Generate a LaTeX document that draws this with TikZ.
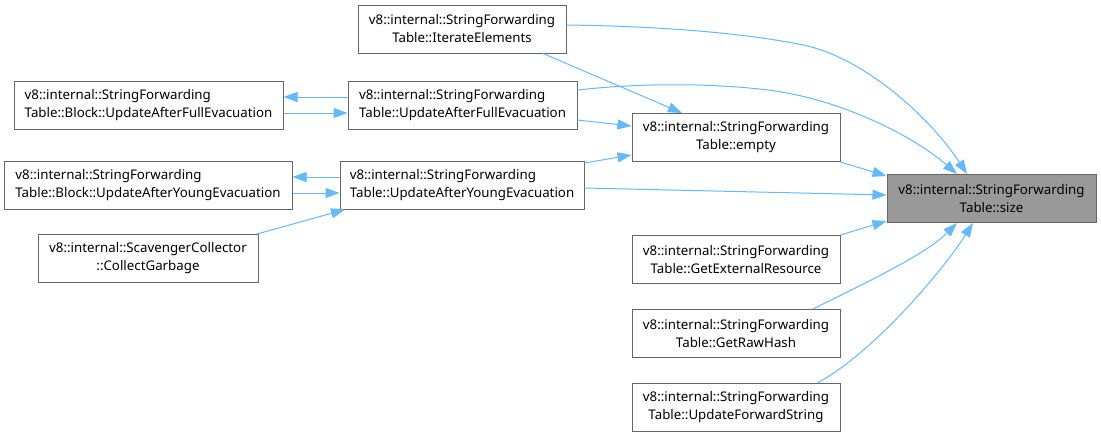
\documentclass[tikz,border=0pt]{standalone}
\usepackage{fontspec}
\setmainfont{Noto Sans}
\usetikzlibrary{arrows.meta}
\definecolor{edgec}{HTML}{63B8FF}
\definecolor{boxc}{HTML}{666666}
\definecolor{focus}{HTML}{999999}
\begin{document}
\begin{tikzpicture}[x=1pt,y=-1pt,
  box/.style={draw=boxc, line width=1pt, fill=white, align=center,
    font=\fontsize{13.3}{18}\selectfont, inner sep=0pt, minimum height=48pt},
  lbox/.style={box, align=left},
  edge/.style={draw=edgec, line width=1pt, -{Triangle[length=14pt,width=10pt]}}]
\useasboundingbox (0,0) rectangle (1101,437);

\node[box, minimum width=208pt] (ie) at (462,29) {v8::internal::StringForwarding\\Table::IterateElements};
\node[lbox, minimum width=269pt] (buafe) at (148.5,105) {v8::internal::StringForwarding\\Table::Block::UpdateAfterFullEvacuation};
\node[lbox, minimum width=229pt] (uafe) at (462.5,105) {v8::internal::StringForwarding\\Table::UpdateAfterFullEvacuation};
\node[box, minimum width=208pt] (empty) at (736,137.5) {v8::internal::StringForwarding\\Table::empty};
\node[lbox, minimum width=288pt] (buaye) at (148,185) {v8::internal::StringForwarding\\Table::Block::UpdateAfterYoungEvacuation};
\node[lbox, minimum width=244pt] (uaye) at (462,185) {v8::internal::StringForwarding\\Table::UpdateAfterYoungEvacuation};
\node[box, minimum width=220pt] (scav) at (148,258.5) {v8::internal::ScavengerCollector\\::CollectGarbage};
\node[box, minimum width=209pt, fill=focus] (size) at (991.5,198.5) {v8::internal::StringForwarding\\Table::size};
\node[box, minimum width=208pt] (ger) at (736,259.5) {v8::internal::StringForwarding\\Table::GetExternalResource};
\node[box, minimum width=208pt] (grh) at (736,333.5) {v8::internal::StringForwarding\\Table::GetRawHash};
\node[box, minimum width=208pt] (ufs) at (736,407) {v8::internal::StringForwarding\\Table::UpdateForwardString};

\draw[edge] (ie.east |- 0,25) .. controls (650,26) and (740,32) .. (803,45) .. controls (866,58) and (932,120) .. (size.north -| 967,0);
\draw[edge] (ie.south -| 543,0) -- (empty.north -| 682,0);
\draw[edge] (uafe.east |- 0,90) .. controls (640,83) and (710,83) .. (768,90) .. controls (840,99) and (912,135) .. (size.north -| 957,0);
\draw[edge] (uafe.west |- 0,97) -- (buafe.east |- 0,97);
\draw[edge] (buafe.east |- 0,113) -- (uafe.west |- 0,113);
\draw[edge] (uafe.east |- 0,120) -- (empty.west |- 0,126);
\draw[edge] (uaye.east |- 0,163) -- (empty.west |- 0,155);
\draw[edge] (uaye.east |- 0,188) -- (size.west |- 0,195);
\draw[edge] (uaye.west |- 0,177) -- (buaye.east |- 0,177);
\draw[edge] (buaye.east |- 0,193) -- (uaye.west |- 0,193);
\draw[edge] (scav.north -| 257,0) -- (uaye.south -| 345,0);
\draw[edge] (empty.south east) -- (size.west |- 0,176);
\draw[edge] (ger.north east) -- (size.west |- 0,221);
\draw[edge] (grh.north -| 813,0) .. controls (865,283) and (925,255) .. (size.south -| 957,0);
\draw[edge] (ufs.north -| 818,0) .. controls (870,355) and (940,275) .. (size.south -| 973,0);
\end{tikzpicture}
\end{document}
